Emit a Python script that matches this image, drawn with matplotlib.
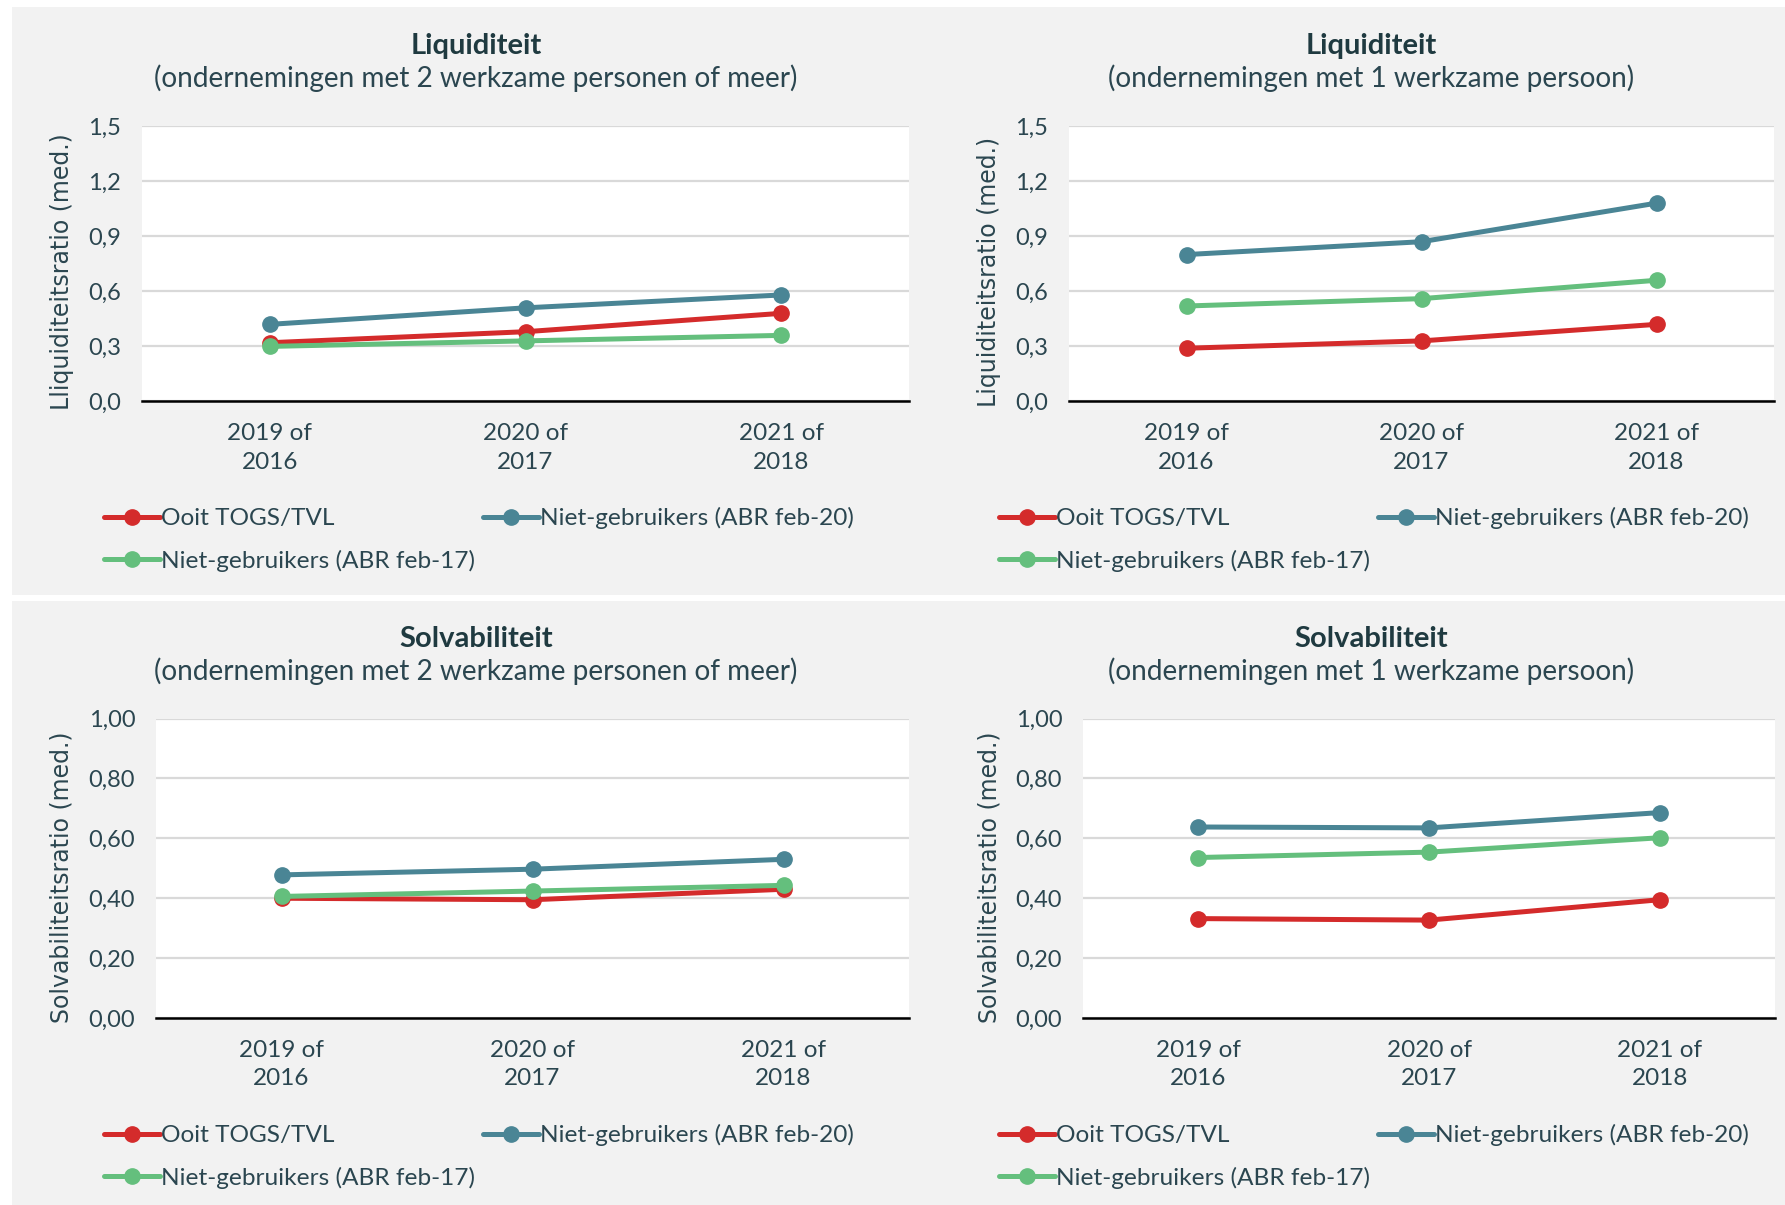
import matplotlib.pyplot as plt
from matplotlib.patches import Rectangle
import numpy as np

plt.rcParams['font.family'] = ['Lato', 'DejaVu Sans']

categories = ['2019 of\n2016', '2020 of\n2017', '2021 of\n2018']
series_names = ['Ooit TOGS/TVL', 'Niet-gebruikers (ABR feb-20)', 'Niet-gebruikers (ABR feb-17)']
colors = ['#d42b2b', '#4a8595', '#64bf7d']

# liquiditeit, 2+ werkzame personen
liq_multi_ooit = [0.32, 0.38, 0.48]
liq_multi_feb20 = [0.42, 0.51, 0.58]
liq_multi_feb17 = [0.30, 0.33, 0.36]
# liquiditeit, 1 werkzame persoon
liq_single_ooit = [0.29, 0.33, 0.42]
liq_single_feb20 = [0.80, 0.87, 1.08]
liq_single_feb17 = [0.52, 0.56, 0.66]
# solvabiliteit, 2+ werkzame personen
solv_multi_ooit = [0.40, 0.395, 0.43]
solv_multi_feb20 = [0.478, 0.497, 0.53]
solv_multi_feb17 = [0.406, 0.424, 0.443]
# solvabiliteit, 1 werkzame persoon
solv_single_ooit = [0.332, 0.327, 0.395]
solv_single_feb20 = [0.638, 0.635, 0.686]
solv_single_feb17 = [0.536, 0.554, 0.602]

liq_ticks = [0.0, 0.3, 0.6, 0.9, 1.2, 1.5]
liq_ticklabels = ['0,0', '0,3', '0,6', '0,9', '1,2', '1,5']
solv_ticks = [0.0, 0.2, 0.4, 0.6, 0.8, 1.0]
solv_ticklabels = ['0,00', '0,20', '0,40', '0,60', '0,80', '1,00']

W, H = 1785, 1205
fig = plt.figure(figsize=(W / 100, H / 100), dpi=100)
fig.patch.set_facecolor('white')

txt = '#2b4650'
ttl = '#1f3a40'
panel = '#f2f2f2'

# grey panels
fig.patches.append(Rectangle((12 / W, 1 - 595 / H), 1, (595 - 7) / H, transform=fig.transFigure,
                             facecolor=panel, edgecolor='none', zorder=-10))
fig.patches.append(Rectangle((12 / W, 0), 1, 1 - 601 / H, transform=fig.transFigure,
                             facecolor=panel, edgecolor='none', zorder=-10))


def px_axes(x0, x1, ytop, ybot):
    return fig.add_axes([x0 / W, 1 - ybot / H, (x1 - x0) / W, (ybot - ytop) / H])


panels = [
    dict(box=(142, 909, 126, 401.5), data=[liq_multi_ooit, liq_multi_feb20, liq_multi_feb17],
         ticks=liq_ticks, tl=liq_ticklabels, ylabel='Lliquiditeitsratio (med.)', lab_x=74,
         title='Liquiditeit', sub='(ondernemingen met 2 werkzame personen of meer)', tx=476, ty=46,
         leg=(104, 507)),
    dict(box=(1069, 1774, 126, 401.5), data=[liq_single_ooit, liq_single_feb20, liq_single_feb17],
         ticks=liq_ticks, tl=liq_ticklabels, ylabel='Liquiditeitsratio (med.)', lab_x=1001,
         title='Liquiditeit', sub='(ondernemingen met 1 werkzame persoon)', tx=1371, ty=46,
         leg=(999, 507)),
    dict(box=(156, 909, 718.6, 1018), data=[solv_multi_ooit, solv_multi_feb20, solv_multi_feb17],
         ticks=solv_ticks, tl=solv_ticklabels, ylabel='Solvabiliteitsratio (med.)', lab_x=74,
         title='Solvabiliteit', sub='(ondernemingen met 2 werkzame personen of meer)', tx=476, ty=639,
         leg=(104, 1124)),
    dict(box=(1083, 1775, 718.6, 1018), data=[solv_single_ooit, solv_single_feb20, solv_single_feb17],
         ticks=solv_ticks, tl=solv_ticklabels, ylabel='Solvabiliteitsratio (med.)', lab_x=1001,
         title='Solvabiliteit', sub='(ondernemingen met 1 werkzame persoon)', tx=1371, ty=639,
         leg=(999, 1124)),
]

x = np.arange(len(categories))
for p in panels:
    x0, x1, yt, yb = p['box']
    ax = px_axes(x0, x1, yt, yb)
    ax.set_facecolor('white')
    lines = []
    for vals, c, name in zip(p['data'], colors, series_names):
        ln, = ax.plot(x, vals, color=c, lw=3.6, marker='o', ms=11, label=name,
                      solid_capstyle='round', zorder=3)
        lines.append(ln)
    ax.set_xlim(-0.5, 2.5)
    ax.set_ylim(p['ticks'][0], p['ticks'][-1])
    ax.set_yticks(p['ticks'])
    ax.set_yticklabels(p['tl'])
    ax.set_xticks(x)
    ax.set_xticklabels(categories, linespacing=1.45)
    ax.tick_params(axis='y', length=0, pad=15, labelsize=17, labelcolor=txt)
    ax.tick_params(axis='x', length=0, pad=15.5, labelsize=17.5, labelcolor=txt)
    ax.grid(axis='y', color='#d9d9d9', lw=1.6, zorder=0)
    ax.set_axisbelow(True)
    for s in ['left', 'right', 'top']:
        ax.spines[s].set_visible(False)
    ax.spines['bottom'].set_color('black')
    ax.spines['bottom'].set_linewidth(1.8)
    ax.spines['bottom'].set_zorder(4)
    ax.set_ylabel(p['ylabel'], fontsize=17, color=txt, family='DejaVu Sans')
    ax.yaxis.set_label_coords((p['lab_x'] - x0) / (x1 - x0), 0.47)

    fig.text(p['tx'] / W, 1 - p['ty'] / H, p['title'], ha='center', va='center',
             fontsize=21, fontweight='bold', color=ttl)
    fig.text(p['tx'] / W, 1 - (p['ty'] + 32) / H, p['sub'], ha='center', va='center',
             fontsize=20.2, color=txt)

    lx, ly = p['leg']
    ax.legend([lines[0], lines[2], lines[1]], [series_names[0], series_names[2], series_names[1]],
              ncol=2, loc='upper left', bbox_to_anchor=(lx / W, 1 - ly / H),
              bbox_transform=fig.transFigure, frameon=False, borderpad=0, borderaxespad=0,
              fontsize=17.6, labelcolor=txt, handlelength=2.3, handletextpad=0.05,
              columnspacing=0.3, labelspacing=0.85, markerscale=1.0)

fig.savefig('out.png', dpi=100, facecolor=fig.get_facecolor())
